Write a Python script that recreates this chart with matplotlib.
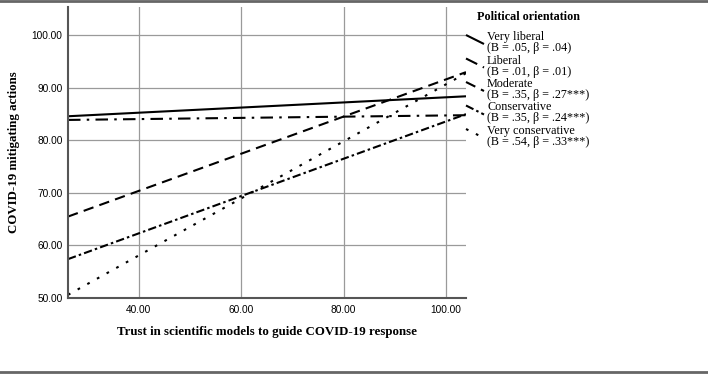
import matplotlib.pyplot as plt
from matplotlib.lines import Line2D

# Daten
trust = [26.2, 103.9]
groups = ["Very liberal", "Liberal", "Moderate", "Conservative", "Very conservative"]
stats = ["(B = .05, \u03b2 = .04)", "(B = .01, \u03b2 = .01)", "(B = .35, \u03b2 = .27***)",
         "(B = .35, \u03b2 = .24***)", "(B = .54, \u03b2 = .33***)"]
actions = [
    [84.6, 88.4],
    [83.9, 84.8],
    [65.5, 93.0],
    [57.4, 85.0],
    [50.6, 92.8],
]
xticks = [40, 60, 80, 100]
yticks = [50, 60, 70, 80, 90, 100]

styles = ["-", (0, (6, 3, 1.2, 3)), (0, (5, 3)), (0, (4, 1.5, 1.2, 1.5)), (0, (1.3, 4))]

W, H = 708, 375
fig = plt.figure(figsize=(W / 100, H / 100), dpi=100)
ax = fig.add_axes([68 / W, 1 - 298 / H, (466 - 68) / W, (298 - 7) / H])

for y, ls in zip(actions, styles):
    ax.plot(trust, y, color="black", lw=1.5, linestyle=ls, solid_capstyle="butt", dash_capstyle="butt")

ax.set_xlim(trust[0], trust[1])
ax.set_ylim(50, 105.4)
ax.set_xticks(xticks)
ax.set_yticks(yticks)
ax.set_xticklabels([f"{t:.2f}" for t in xticks], fontfamily="Liberation Sans", fontsize=7.3)
ax.set_yticklabels([f"{t:.2f}" for t in yticks], fontfamily="Liberation Sans", fontsize=7.3)
ax.tick_params(axis="y", length=0, pad=4)
ax.tick_params(axis="x", length=0, pad=5)
ax.grid(True, color="#9a9a9a", lw=0.9)
ax.set_axisbelow(True)
for s in ["top", "right"]:
    ax.spines[s].set_visible(False)
for s in ["left", "bottom"]:
    ax.spines[s].set_color("#555555")
    ax.spines[s].set_linewidth(1.5)

ax.set_xlabel("Trust in scientific models to guide COVID-19 response", fontfamily="Liberation Serif",
              fontweight="bold", fontsize=9.3, labelpad=8)
ax.set_ylabel("COVID-19 mitigating actions", fontfamily="Liberation Serif",
              fontweight="bold", fontsize=9.3, labelpad=8)

# Legende von Hand (schraege Linien)
fig.text(477 / W, 1 - 17 / H, "Political orientation", fontfamily="Liberation Serif",
         fontweight="bold", fontsize=8.7, va="center")
for i, (g, st, ls) in enumerate(zip(groups, stats, styles)):
    y0 = 35 + i * 23.5
    fig.add_artist(Line2D([466 / W, 484 / W], [1 - y0 / H, 1 - (y0 + 9) / H],
                          transform=fig.transFigure, color="black", lw=1.5, linestyle=ls,
                          dash_capstyle="butt", solid_capstyle="butt"))
    fig.text(487 / W, 1 - (y0 + 2) / H, g, fontfamily="Liberation Serif", fontsize=8.7, va="center")
    fig.text(487 / W, 1 - (y0 + 13) / H, st, fontfamily="Liberation Serif", fontsize=8.7, va="center")

# graue Rahmenlinien oben und unten
fig.add_artist(Line2D([0, 1], [1 - 1 / H, 1 - 1 / H], transform=fig.transFigure, color="#666666", lw=2))
fig.add_artist(Line2D([0, 1], [1 - 372 / H, 1 - 372 / H], transform=fig.transFigure, color="#666666", lw=2))

fig.savefig("out.png", dpi=100)
